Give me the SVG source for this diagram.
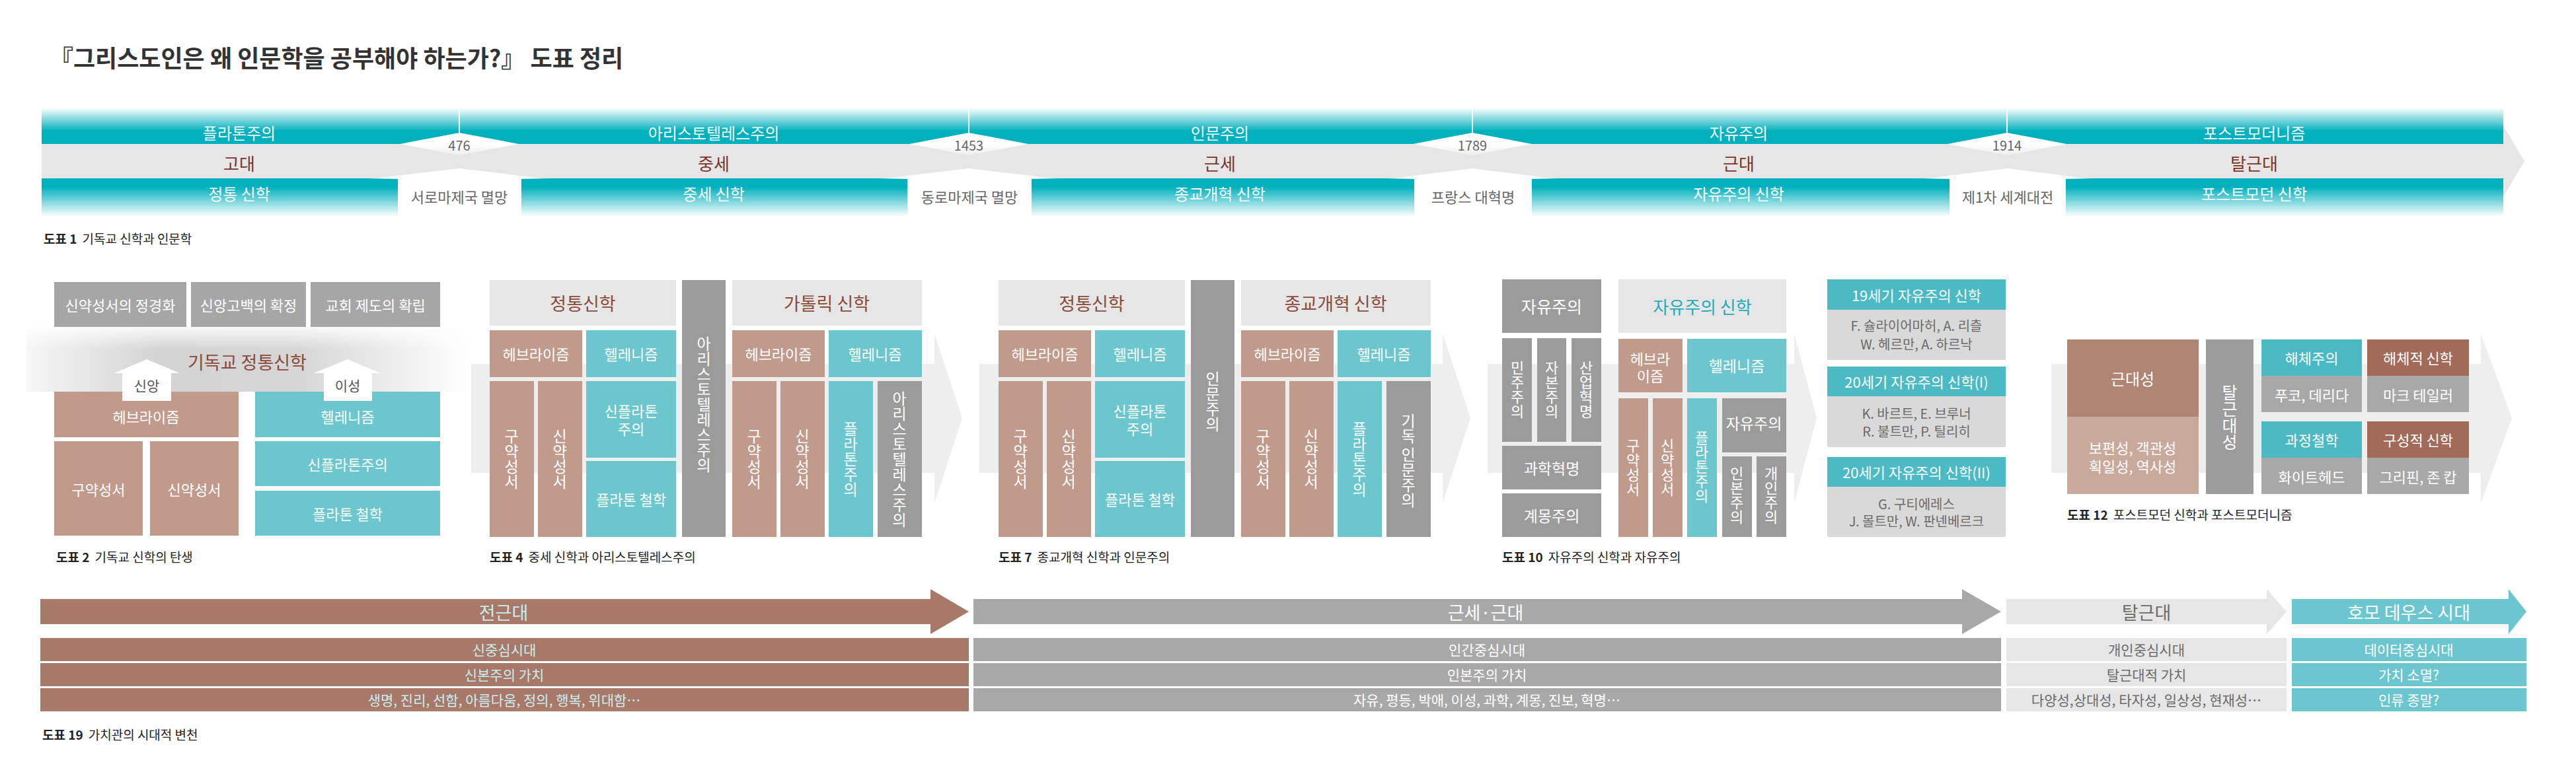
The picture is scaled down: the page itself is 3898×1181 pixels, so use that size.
<svg xmlns="http://www.w3.org/2000/svg" width="3898" height="1181" viewBox="0 0 3898 1181">
<defs>
<linearGradient id="gTop" x1="0" y1="0" x2="0" y2="1"><stop offset="0" stop-color="#fff"/><stop offset="0.65" stop-color="#00b0bd"/><stop offset="1" stop-color="#00b0bd"/></linearGradient>
<linearGradient id="gBot" x1="0" y1="0" x2="0" y2="1"><stop offset="0" stop-color="#00b0bd"/><stop offset="0.22" stop-color="#00b0bd"/><stop offset="1" stop-color="#fff"/></linearGradient>
<linearGradient id="gDia" x1="0" y1="0" x2="0" y2="1"><stop offset="0" stop-color="#fff"/><stop offset="0.5" stop-color="#fff"/><stop offset="1" stop-color="#fff" stop-opacity="0.3"/></linearGradient>
<linearGradient id="gEvt" x1="0" y1="0" x2="1" y2="0"><stop offset="0" stop-color="#fff" stop-opacity="0.1"/><stop offset="0.17" stop-color="#fff"/><stop offset="0.83" stop-color="#fff"/><stop offset="1" stop-color="#fff" stop-opacity="0.1"/></linearGradient>
<linearGradient id="gOrth" x1="0" y1="0" x2="1" y2="0"><stop offset="0" stop-color="#f6f6f6"/><stop offset="0.3" stop-color="#d3d3d3"/><stop offset="0.62" stop-color="#d6d6d6"/><stop offset="1" stop-color="#fff"/></linearGradient>
<linearGradient id="gOrthV" x1="0" y1="0" x2="0" y2="1"><stop offset="0" stop-color="#fff" stop-opacity="0.85"/><stop offset="0.35" stop-color="#fff" stop-opacity="0"/></linearGradient>
<style>
text{font-family:"Noto Sans CJK KR","Noto Sans CJK SC",sans-serif}
.m{text-anchor:middle;dominant-baseline:central}
.v{writing-mode:vertical-rl;text-anchor:middle;dominant-baseline:central}
.br{fill:#c09a8b}.tl{fill:#6cc6ce}.gy{fill:#9b9b9b}.lg{fill:#e6e6e6}.band{fill:#eeeeee}
.wt{fill:#fff}.g6{fill:#666}
.hb{fill:#8b4a3a;font-size:27px}
.s20{font-size:20px}.s21{font-size:21px}.s22{font-size:22px}.s23{font-size:23px}.s24{font-size:24px}.s25{font-size:25px}.s26{font-size:26px}.s27{font-size:27px}
.cap{font-size:19px;fill:#222;dominant-baseline:central}
.per{fill:#7a3426;font-size:26px}
.cy{fill:#c9eef2}
</style>
</defs>
<rect width="3898" height="1181" fill="#fff"/>

<g id="title"><text x="75" y="86" font-size="36" font-weight="bold" fill="#333" style="dominant-baseline:central">『그리스도인은 왜 인문학을 공부해야 하는가?』 도표 정리</text></g>

<!-- FIGURE 1: timeline -->
<g id="fig1-timeline">
<polygon points="63,218 3788,218 3788,190 3820,244 3788,298 3788,270 63,270" fill="#e6e6e6"/>
<rect x="63" y="163" width="3725" height="55" fill="url(#gTop)"/>
<rect x="63" y="270" width="3725" height="58" fill="url(#gBot)"/>
<g stroke="#fff" stroke-width="2">
<line x1="695" y1="163" x2="695" y2="202"/><line x1="1466" y1="163" x2="1466" y2="202"/><line x1="2228" y1="163" x2="2228" y2="202"/><line x1="3037" y1="163" x2="3037" y2="202"/>
</g>
<g fill="url(#gDia)">
<polygon points="695,201 785,218 695,235 605,218"/>
<polygon points="1466,201 1556,218 1466,235 1376,218"/>
<polygon points="2228,201 2318,218 2228,235 2138,218"/>
<polygon points="3037,201 3127,218 3037,235 2947,218"/>
</g>
<g fill="url(#gEvt)">
<polygon points="557,271 695,255 831,271 789,271 789,336 602,336 602,271"/>
<polygon points="1329,271 1466,255 1602,271 1561,271 1561,336 1373,336 1373,271"/>
<polygon points="2098,271 2228,255 2358,271 2318,271 2318,336 2140,336 2140,271"/>
<polygon points="2908,271 3037,255 3166,271 3126,271 3126,336 2950,336 2950,271"/>
</g>
<g class="m wt s24">
<text x="362" y="200">플라톤주의</text><text x="1080" y="200">아리스토텔레스주의</text><text x="1846" y="200">인문주의</text><text x="2631" y="200">자유주의</text><text x="3411" y="200">포스트모더니즘</text>
<text x="362" y="292">정통 신학</text><text x="1080" y="292">중세 신학</text><text x="1846" y="292">종교개혁 신학</text><text x="2631" y="292">자유주의 신학</text><text x="3411" y="292">포스트모던 신학</text>
</g>
<g class="m per">
<text x="362" y="246">고대</text><text x="1080" y="246">중세</text><text x="1846" y="246">근세</text><text x="2631" y="246">근대</text><text x="3411" y="246">탈근대</text>
</g>
<g class="m g6 s20">
<text x="695" y="219">476</text><text x="1466" y="219">1453</text><text x="2228" y="219">1789</text><text x="3037" y="219">1914</text>
</g>
<g class="m g6 s22">
<text x="695" y="297">서로마제국 멸망</text><text x="1467" y="297">동로마제국 멸망</text><text x="2229" y="297">프랑스 대혁명</text><text x="3038" y="297">제1차 세계대전</text>
</g>
<text class="cap" x="66" y="360"><tspan font-weight="bold">도표 1</tspan><tspan dx="8">기독교 신학과 인문학</tspan></text>
</g>

<!-- background band arrows -->
<g id="bands" class="band">
<polygon points="713,551 1414,551 1414,505 1456,633 1414,762 1414,716 713,716"/>
<polygon points="1482,551 2183,551 2183,505 2225,633 2183,762 2183,716 1482,716"/>
<polygon points="2251,551 2715,551 2715,505 2749,633 2715,762 2715,716 2251,716"/>
<polygon points="3104,551 3754,551 3754,505 3801,633 3754,762 3754,716 3104,716"/>
</g>

<!-- FIGURE 2 -->
<g id="fig2">
<rect x="40" y="495" width="670" height="98" fill="url(#gOrth)"/>
<rect x="40" y="495" width="670" height="98" fill="url(#gOrthV)"/>
<rect x="82" y="427" width="200" height="68" fill="#a6a6a6"/>
<rect x="289" y="427" width="174" height="68" fill="#a6a6a6"/>
<rect x="470" y="427" width="196" height="68" fill="#a6a6a6"/>
<g class="m wt s22"><text x="182" y="461">신약성서의 정경화</text><text x="376" y="461">신앙고백의 확정</text><text x="568" y="461">교회 제도의 확립</text></g>
<text class="m hb" x="374" y="547">기독교 정통신학</text>
<rect class="br" x="82" y="593" width="279" height="69"/>
<rect class="br" x="82" y="668" width="134" height="143"/>
<rect class="br" x="227" y="668" width="134" height="143"/>
<rect class="tl" x="386" y="593" width="280" height="69"/>
<rect class="tl" x="386" y="668" width="280" height="68"/>
<rect class="tl" x="386" y="743" width="280" height="68"/>
<g class="m wt s22">
<text x="221" y="630">헤브라이즘</text><text x="526" y="630">헬레니즘</text>
<text x="149" y="740">구약성서</text><text x="294" y="740">신약성서</text>
<text x="526" y="702">신플라톤주의</text><text x="526" y="777">플라톤 철학</text>
</g>
<text class="cap" x="85" y="842"><tspan font-weight="bold">도표 2</tspan><tspan dx="8">기독교 신학의 탄생</tspan></text>
</g>

<!-- FIGURE 4 -->
<g id="fig4">
<rect class="lg" x="741" y="424" width="282" height="69"/>
<rect class="gy" x="1032" y="424" width="66" height="389"/>
<rect class="lg" x="1108" y="424" width="287" height="69"/>
<rect class="br" x="741" y="500" width="140" height="71"/>
<rect class="tl" x="887" y="500" width="136" height="71"/>
<rect class="br" x="741" y="577" width="67" height="236"/>
<rect class="br" x="814" y="577" width="67" height="236"/>
<rect class="tl" x="887" y="577" width="136" height="116"/>
<rect class="tl" x="887" y="698" width="136" height="115"/>
<rect class="br" x="1108" y="500" width="140" height="71"/>
<rect class="tl" x="1254" y="500" width="141" height="71"/>
<rect class="br" x="1108" y="577" width="67" height="236"/>
<rect class="br" x="1181" y="577" width="67" height="236"/>
<rect class="tl" x="1254" y="577" width="67" height="236"/>
<rect class="gy" x="1328" y="577" width="67" height="236"/>
<text class="m hb" x="882" y="458">정통신학</text>
<text class="m hb" x="1251" y="458">가톨릭 신학</text>
<g class="m wt s22">
<text x="811" y="535">헤브라이즘</text><text x="955" y="535">헬레니즘</text>
<text x="1178" y="535">헤브라이즘</text><text x="1324" y="535">헬레니즘</text>
<text x="955" y="621">신플라톤</text><text x="955" y="648">주의</text>
<text x="955" y="755">플라톤 철학</text>
</g>
<g class="v wt s23">
<text x="1065" y="612">아리스토텔레스주의</text>
<text x="774" y="695">구약성서</text><text x="847" y="695">신약성서</text>
<text x="1141" y="695">구약성서</text><text x="1214" y="695">신약성서</text>
<text x="1287" y="695">플라톤주의</text><text x="1361" y="695">아리스토텔레스주의</text>
</g>
<text class="cap" x="741" y="842"><tspan font-weight="bold">도표 4</tspan><tspan dx="8">중세 신학과 아리스토텔레스주의</tspan></text>
</g>

<!-- FIGURE 7 -->
<g id="fig7" transform="translate(770,0)">
<rect class="lg" x="741" y="424" width="282" height="69"/>
<rect class="gy" x="1032" y="424" width="66" height="389"/>
<rect class="lg" x="1108" y="424" width="287" height="69"/>
<rect class="br" x="741" y="500" width="140" height="71"/>
<rect class="tl" x="887" y="500" width="136" height="71"/>
<rect class="br" x="741" y="577" width="67" height="236"/>
<rect class="br" x="814" y="577" width="67" height="236"/>
<rect class="tl" x="887" y="577" width="136" height="116"/>
<rect class="tl" x="887" y="698" width="136" height="115"/>
<rect class="br" x="1108" y="500" width="140" height="71"/>
<rect class="tl" x="1254" y="500" width="141" height="71"/>
<rect class="br" x="1108" y="577" width="67" height="236"/>
<rect class="br" x="1181" y="577" width="67" height="236"/>
<rect class="tl" x="1254" y="577" width="67" height="236"/>
<rect class="gy" x="1328" y="577" width="67" height="236"/>
<text class="m hb" x="882" y="458">정통신학</text>
<text class="m hb" x="1251" y="458">종교개혁 신학</text>
<g class="m wt s22">
<text x="811" y="535">헤브라이즘</text><text x="955" y="535">헬레니즘</text>
<text x="1178" y="535">헤브라이즘</text><text x="1324" y="535">헬레니즘</text>
<text x="955" y="621">신플라톤</text><text x="955" y="648">주의</text>
<text x="955" y="755">플라톤 철학</text>
</g>
<g class="v wt s23">
<text x="1065" y="608">인문주의</text>
<text x="774" y="695">구약성서</text><text x="847" y="695">신약성서</text>
<text x="1141" y="695">구약성서</text><text x="1214" y="695">신약성서</text>
<text x="1287" y="695">플라톤주의</text><text x="1361" y="697">기독 인문주의</text>
</g>
<text class="cap" x="741" y="842"><tspan font-weight="bold">도표 7</tspan><tspan dx="8">종교개혁 신학과 인문주의</tspan></text>
</g>

<!-- FIGURE 10 -->
<g id="fig10">
<rect class="gy" x="2273" y="423" width="150" height="81"/>
<rect class="lg" x="2449" y="423" width="254" height="81"/>
<rect class="gy" x="2273" y="512" width="45" height="157"/>
<rect class="gy" x="2326" y="512" width="44" height="157"/>
<rect class="gy" x="2378" y="512" width="45" height="157"/>
<rect class="gy" x="2273" y="675" width="150" height="66"/>
<rect class="gy" x="2273" y="747" width="150" height="66"/>
<rect class="br" x="2449" y="513" width="97" height="81"/>
<rect class="tl" x="2553" y="513" width="150" height="81"/>
<rect class="br" x="2449" y="603" width="45" height="210"/>
<rect class="br" x="2501" y="603" width="45" height="210"/>
<rect class="tl" x="2553" y="603" width="45" height="210"/>
<rect class="gy" x="2606" y="603" width="97" height="82"/>
<rect class="gy" x="2606" y="691" width="45" height="122"/>
<rect class="gy" x="2658" y="691" width="45" height="122"/>
<text class="m wt s25" x="2348" y="463">자유주의</text>
<text class="m s26" x="2576" y="463" fill="#1fabb9">자유주의 신학</text>
<g class="m wt s23">
<text x="2348" y="708">과학혁명</text><text x="2348" y="780">계몽주의</text>
<text x="2628" y="553">헬레니즘</text><text x="2654" y="640">자유주의</text>
</g>
<g class="m wt s22"><text x="2497" y="542">헤브라</text><text x="2497" y="568">이즘</text></g>
<g class="v wt s22">
<text x="2296" y="590">민주주의</text><text x="2348" y="590">자본주의</text><text x="2400" y="590">산업혁명</text>
<text x="2471" y="708">구약성서</text><text x="2523" y="708">신약성서</text><text x="2575" y="707">플라톤주의</text>
<text x="2628" y="750">인본주의</text><text x="2680" y="750">개인주의</text>
</g>
<text class="cap" x="2273" y="842"><tspan font-weight="bold">도표 10</tspan><tspan dx="8">자유주의 신학과 자유주의</tspan></text>
</g>

<g id="fig10-list">
<rect x="2765" y="423" width="270" height="46" fill="#4bbac5"/>
<rect x="2765" y="469" width="270" height="76" fill="#d9d9d9"/>
<rect x="2765" y="555" width="270" height="45" fill="#4bbac5"/>
<rect x="2765" y="600" width="270" height="77" fill="#d9d9d9"/>
<rect x="2765" y="692" width="270" height="45" fill="#4bbac5"/>
<rect x="2765" y="737" width="270" height="76" fill="#d9d9d9"/>
<g class="m wt s22">
<text x="2900" y="446">19세기 자유주의 신학</text>
<text x="2900" y="577">20세기 자유주의 신학(I)</text>
<text x="2900" y="714">20세기 자유주의 신학(II)</text>
</g>
<g class="m s20" fill="#6a6a6a">
<text x="2900" y="492">F. 슐라이어마허, A. 리츨</text><text x="2900" y="520">W. 헤르만, A. 하르낙</text>
<text x="2900" y="625">K. 바르트, E. 브루너</text><text x="2900" y="652">R. 불트만, P. 틸리히</text>
<text x="2900" y="762">G. 구티에레스</text><text x="2900" y="788">J. 몰트만, W. 판넨베르크</text>
</g>
</g>

<!-- FIGURE 12 -->
<g id="fig12">
<rect x="3128" y="514" width="199" height="117" fill="#b08574"/>
<rect x="3128" y="631" width="199" height="117" fill="#c9a99b"/>
<rect x="3338" y="514" width="72" height="234" fill="#9c9c9c"/>
<rect x="3422" y="514" width="152" height="55" fill="#4bb9c4"/>
<rect x="3422" y="569" width="152" height="55" fill="#a8a8a8"/>
<rect x="3582" y="514" width="154" height="55" fill="#a26a58"/>
<rect x="3582" y="569" width="154" height="55" fill="#a8a8a8"/>
<rect x="3422" y="638" width="152" height="55" fill="#4bb9c4"/>
<rect x="3422" y="693" width="152" height="55" fill="#a8a8a8"/>
<rect x="3582" y="638" width="154" height="55" fill="#a26a58"/>
<rect x="3582" y="693" width="154" height="55" fill="#a8a8a8"/>
<text class="m wt s24" x="3227" y="572">근대성</text>
<g class="m wt s22">
<text x="3227" y="677">보편성, 객관성</text><text x="3227" y="705">획일성, 역사성</text>
<text x="3498" y="541">해체주의</text><text x="3498" y="597">푸코, 데리다</text>
<text x="3659" y="541">해체적 신학</text><text x="3659" y="597">마크 테일러</text>
<text x="3498" y="665">과정철학</text><text x="3498" y="721">화이트헤드</text>
<text x="3659" y="665">구성적 신학</text><text x="3659" y="721">그리핀, 존 캅</text>
</g>
<text class="v wt s25" x="3374" y="632">탈근대성</text>
<text class="cap" x="3128" y="778"><tspan font-weight="bold">도표 12</tspan><tspan dx="8">포스트모던 신학과 포스트모더니즘</tspan></text>
</g>

<!-- FIGURE 19 -->
<g id="fig19">
<polygon points="61,907 1408,907 1408,892 1466,926 1408,960 1408,945 61,945" fill="#a87868"/>
<polygon points="1473,907 2969,907 2969,892 3028,926 2969,960 2969,945 1473,945" fill="#a8a8a8"/>
<polygon points="3036,907 3430,907 3430,892 3460,926 3430,960 3430,945 3036,945" fill="#e6e6e6"/>
<polygon points="3468,907 3796,907 3796,892 3823,926 3796,960 3796,945 3468,945" fill="#6cc6cf"/>
<g fill="#a87868"><rect x="61" y="966" width="1405" height="35"/><rect x="61" y="1004" width="1405" height="35"/><rect x="61" y="1042" width="1405" height="35"/></g>
<g fill="#a8a8a8"><rect x="1473" y="966" width="1555" height="35"/><rect x="1473" y="1004" width="1555" height="35"/><rect x="1473" y="1042" width="1555" height="35"/></g>
<g fill="#e6e6e6"><rect x="3036" y="966" width="424" height="35"/><rect x="3036" y="1004" width="424" height="35"/><rect x="3036" y="1042" width="424" height="35"/></g>
<g fill="#6cc6cf"><rect x="3468" y="966" width="355" height="35"/><rect x="3468" y="1004" width="355" height="35"/><rect x="3468" y="1042" width="355" height="35"/></g>
<text class="m cy s27" x="762" y="926">전근대</text>
<text class="m wt s27" x="2248" y="926">근세·근대</text>
<text class="m s27" x="3248" y="926" fill="#6b6b6b">탈근대</text>
<text class="m wt s27" x="3645" y="926">호모 데우스 시대</text>
<g class="m cy s21"><text x="763" y="983">신중심시대</text><text x="763" y="1021">신본주의 가치</text><text x="763" y="1059">생명, 진리, 선함, 아름다움, 정의, 행복, 위대함…</text></g>
<g class="m wt s21"><text x="2250" y="983">인간중심시대</text><text x="2250" y="1021">인본주의 가치</text><text x="2250" y="1059">자유, 평등, 박애, 이성, 과학, 계몽, 진보, 혁명…</text></g>
<g class="m s21" fill="#6b6b6b"><text x="3248" y="983">개인중심시대</text><text x="3248" y="1021">탈근대적 가치</text><text x="3248" y="1059">다양성,상대성, 타자성, 일상성, 현재성…</text></g>
<g class="m wt s21"><text x="3645" y="983">데이터중심시대</text><text x="3645" y="1021">가치 소멸?</text><text x="3645" y="1059">인류 종말?</text></g>
<text class="cap" x="64" y="1111"><tspan font-weight="bold">도표 19</tspan><tspan dx="8">가치관의 시대적 변천</tspan></text>
</g>

<!-- connectors: fig 2 up arrows -->
<g id="connectors" fill="#fff">
<polygon points="222,544 272,565 259,565 259,607 185,607 185,565 173,565"/>
<polygon points="526,544 576,565 563,565 563,607 490,607 490,565 475,565"/>
<text class="m s21" x="222" y="583" fill="#555">신앙</text>
<text class="m s21" x="526" y="583" fill="#555">이성</text>
</g>
</svg>
